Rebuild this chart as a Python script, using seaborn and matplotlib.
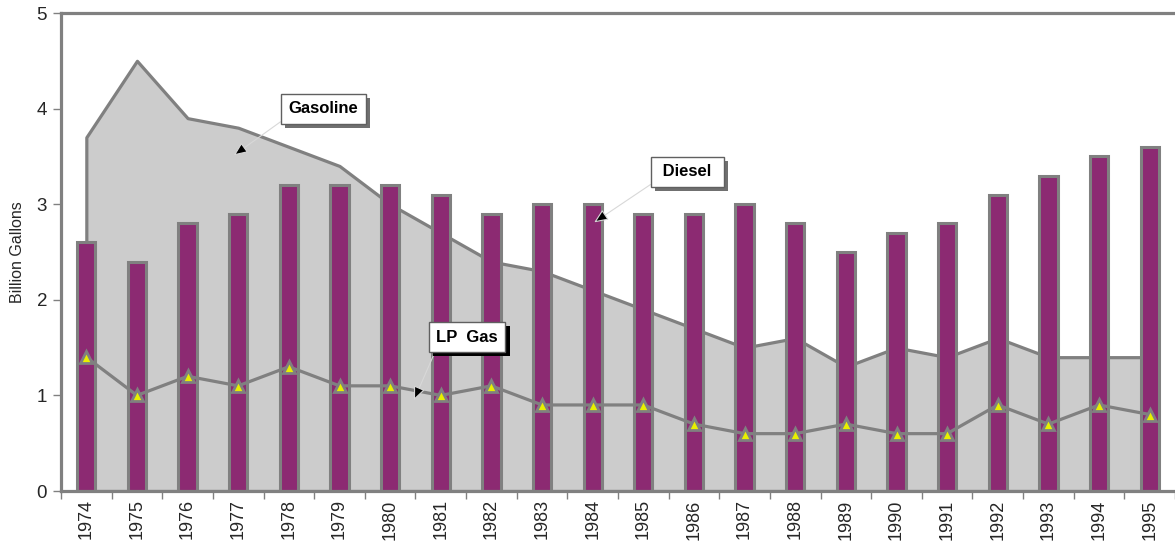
import numpy as np
import pandas as pd
import matplotlib
matplotlib.use("Agg")
import matplotlib.pyplot as plt
import matplotlib.patheffects as pe
import seaborn as sns

# Farm fuel use, billion gallons
years = [str(y) for y in range(1974, 1996)]
gasoline = [3.7, 4.5, 3.9, 3.8, 3.6, 3.4, 3.0, 2.7, 2.4, 2.3, 2.1,
            1.9, 1.7, 1.5, 1.6, 1.3, 1.5, 1.4, 1.6, 1.4, 1.4, 1.4]
diesel = [2.6, 2.4, 2.8, 2.9, 3.2, 3.2, 3.2, 3.1, 2.9, 3.0, 3.0,
          2.9, 2.9, 3.0, 2.8, 2.5, 2.7, 2.8, 3.1, 3.3, 3.5, 3.6]
lp_gas = [1.4, 1.0, 1.2, 1.1, 1.3, 1.1, 1.1, 1.0, 1.1, 0.9, 0.9,
          0.9, 0.7, 0.6, 0.6, 0.7, 0.6, 0.6, 0.9, 0.7, 0.9, 0.8]
y_ticks = [0, 1, 2, 3, 4, 5]

GREY = "#808080"
PURPLE = "#8C2A72"
AREA = "#CCCCCC"

sns.set_theme(style="white")
plt.rcParams["font.family"] = ["Liberation Sans", "DejaVu Sans"]

pos = np.arange(len(years))
df = pd.DataFrame({"pos": pos, "year": years, "gasoline": gasoline,
                   "diesel": diesel, "lp_gas": lp_gas})

fig = plt.figure(figsize=(11.75, 5.45), dpi=100)
ax = fig.add_axes([61 / 1175, 54 / 545, 1114 / 1175, 478 / 545])

# Gasoline as a shaded area behind the bars
ax.fill_between(df["pos"], df["gasoline"], 0, facecolor=AREA,
                edgecolor=GREY, linewidth=2.3, zorder=1)

# Diesel bars
sns.barplot(data=df, x="pos", y="diesel", ax=ax, color=PURPLE,
            saturation=1, width=0.36, edgecolor=GREY, linewidth=2.2,
            zorder=2)

# LP gas line with triangle markers
sns.lineplot(data=df, x="pos", y="lp_gas", ax=ax, color=GREY,
             linewidth=2.3, marker="^", markersize=9,
             markerfacecolor="#E8F000", markeredgecolor=GREY,
             markeredgewidth=2, zorder=3)

ax.set_xlim(-0.5, 21.4)
ax.set_ylim(0, 5)
ax.set_yticks(y_ticks)
ax.set_yticklabels([str(t) for t in y_ticks], fontsize=13.5)
ax.set_xticks(pos)
ax.set_xticklabels(years, rotation=90, fontsize=13)
ax.set_xticks(np.arange(-0.5, len(years), 1.0), minor=True)
ax.tick_params(axis="x", which="major", length=0, pad=6)
ax.tick_params(axis="x", which="minor", length=6, width=1, color=GREY,
               direction="out", bottom=True)
ax.tick_params(axis="y", which="major", length=6, width=1, color=GREY,
               direction="out", left=True, pad=4)
ax.set_xlabel("")
ax.set_ylabel("Billion Gallons", fontsize=11.5, labelpad=8)

for side in ["left", "bottom", "top"]:
    ax.spines[side].set_color(GREY)
    ax.spines[side].set_linewidth(2.3)
    ax.spines[side].set_visible(True)
ax.spines["right"].set_visible(False)
ax.grid(False)


def callout(label, xy, xytext, relpos, shadow):
    ann = ax.annotate(
        label, xy=xy, xytext=xytext, ha="center", va="center",
        fontsize=12, fontweight="bold", color="black", zorder=6,
        bbox=dict(boxstyle="square,pad=0.45", fc="white", ec="#606060", lw=1),
        arrowprops=dict(arrowstyle="-|>,head_length=0.7,head_width=0.3",
                        fc="black", ec="#d8d8d8", lw=0.8,
                        relpos=relpos, shrinkA=0, shrinkB=0))
    # drop shadow under the label box
    ann.get_bbox_patch().set_path_effects([
        pe.SimplePatchShadow(offset=(3, -3), shadow_rgbFace=shadow, alpha=1.0),
        pe.Normal()])


callout("Gasoline", (2.91, 3.51), (4.68, 4.0), (0.0, 0.0), "#707070")
callout(" Diesel ", (10.03, 2.81), (11.87, 3.34), (0.0, 0.0), "#707070")
callout("LP  Gas", (6.47, 0.95), (7.52, 1.61), (0.03, 0.0), "black")

fig.savefig("out.png", dpi=100)
